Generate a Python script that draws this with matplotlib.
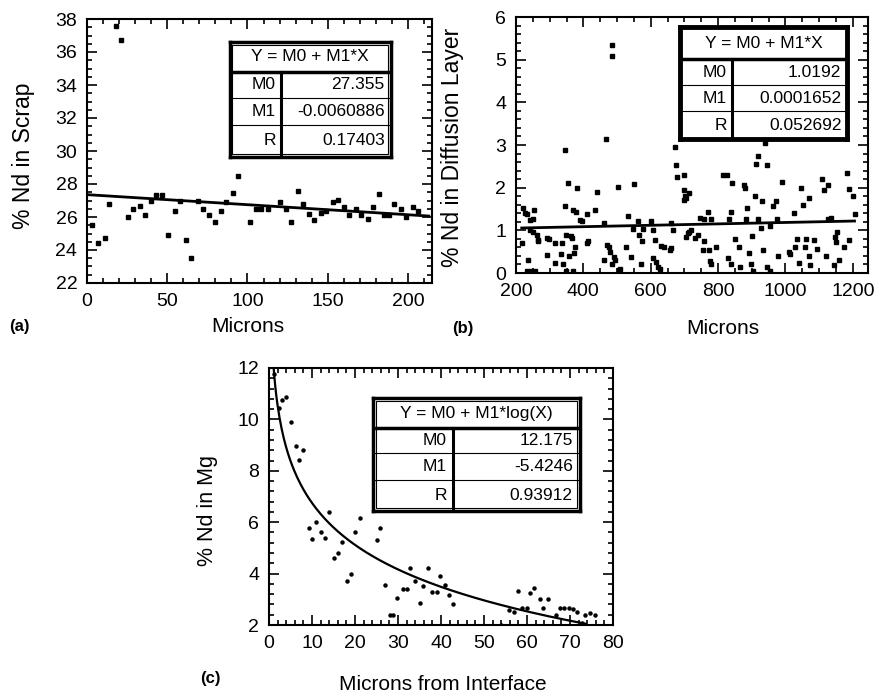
import numpy as np
import matplotlib
matplotlib.use("Agg")
import matplotlib.pyplot as plt
from matplotlib.ticker import MultipleLocator
from matplotlib.patches import Rectangle

plt.rcParams['font.family'] = ['Liberation Sans', 'DejaVu Sans']

# ---- panel (a): % Nd in scrap vs microns
a_x = np.array([3, 6.8, 11, 14, 17.8, 21.4, 25.5, 28.6, 32.8, 35.9, 40, 43.2, 46.9, 50.4,
                54.6, 57.7, 61.8, 65, 69, 72.2, 76.3, 79.5, 83.6, 86.7, 90.9, 94, 101.7,
                105.4, 108.5, 112.7, 120, 124, 127.2, 131.3, 134.4, 138.6, 141.7, 145.9,
                149, 153, 156.2, 160.4, 163.5, 167.6, 170.7, 174.9, 178, 182, 185.3,
                188.4, 191.5, 195.6, 198.8, 202.9, 206])
a_y = np.array([25.5, 24.4, 24.7, 26.8, 37.6, 36.7, 26.0, 26.5, 26.65, 26.15, 26.95, 27.35,
                27.35, 24.9, 26.35, 26.95, 24.6, 23.5, 26.95, 26.5, 26.15, 25.7, 26.35,
                26.9, 27.45, 28.5, 25.7, 26.5, 26.5, 26.5, 26.9, 26.5, 25.7, 27.55, 26.8,
                26.2, 25.8, 26.25, 26.35, 26.9, 27.05, 26.6, 26.1, 26.5, 26.1, 25.9, 26.6,
                27.4, 26.15, 26.15, 26.8, 26.5, 26.0, 26.6, 26.35])
a_m0, a_m1 = 27.355, -0.0060886
a_fit = ["27.355", "-0.0060886", "0.17403"]

# ---- panel (b): % Nd in diffusion layer vs microns
b_pts = [
    (222, 1.52), (227, 1.40), (217, 0.70), (233, 1.39), (236, 0.31), (241, 1.25),
    (233, 0.05), (245, 0.05), (250, 1.26), (254, 1.47), (241, 1.00), (250, 0.95),
    (262, 0.90), (255, 0.05), (264, 0.74), (266, 0.78), (293, 0.82), (293, 0.43),
    (299, 0.80), (315, 0.70), (315, 0.23), (334, 0.44), (336, 0.70), (341, 0.22),
    (344, 1.56), (346, 2.88), (348, 0.90), (348, 0.05), (353, 2.10), (358, 0.40),
    (363, 0.86), (366, 0.83), (370, 1.48), (370, 0.05), (371, 0.47), (375, 0.60),
    (379, 1.44), (382, 2.00), (390, 1.25), (395, 1.22), (410, 1.39), (410, 0.70),
    (414, 0.74), (435, 1.47), (440, 1.89), (460, 1.18), (462, 0.31), (466, 3.13),
    (470, 0.66), (475, 0.60), (480, 0.50), (484, 0.22), (486, 5.34), (486, 5.08),
    (490, 0.38), (494, 0.30), (503, 2.02), (505, 0.08), (508, 0.10), (528, 0.61),
    (533, 1.34), (540, 0.37), (547, 1.03), (551, 2.08), (562, 1.21), (565, 0.90),
    (570, 0.22), (575, 0.76), (578, 1.03), (602, 1.22), (607, 0.35), (607, 1.01),
    (612, 0.78), (617, 0.25), (622, 0.15), (627, 0.10), (630, 0.64), (640, 0.60),
    (656, 0.55), (660, 0.58), (661, 1.18), (666, 1.00), (671, 2.96), (674, 2.53),
    (678, 2.24), (698, 2.30), (700, 1.95), (703, 1.80), (698, 1.70), (705, 1.75),
    (712, 0.94), (713, 1.87), (715, 0.97), (721, 1.00), (706, 0.85), (730, 0.82),
    (739, 0.90), (745, 1.29), (754, 0.55), (757, 0.75), (757, 1.27), (769, 1.44),
    (773, 0.55), (775, 0.27), (780, 1.27), (780, 0.22), (793, 0.62), (816, 2.30),
    (826, 2.30), (828, 0.36), (833, 1.27), (838, 1.44), (838, 0.20), (841, 2.10),
    (849, 0.80), (861, 0.60), (865, 0.14), (876, 2.07), (880, 2.00), (884, 1.27),
    (887, 1.52), (892, 0.47), (897, 0.22), (900, 0.86), (905, 0.05), (910, 1.80),
    (912, 2.56), (917, 2.74), (917, 1.27), (926, 1.06), (929, 1.69), (932, 0.55),
    (940, 3.04), (944, 2.53), (946, 0.15), (953, 1.09), (953, 0.05), (962, 1.56),
    (971, 1.69), (976, 1.27), (978, 0.40), (991, 2.14), (1009, 0.50), (1014, 0.45),
    (1024, 1.41), (1029, 0.62), (1035, 0.80), (1041, 0.24), (1047, 1.99), (1051, 1.60),
    (1059, 0.60), (1061, 0.80), (1069, 1.76), (1071, 0.40), (1074, 0.19), (1086, 0.78),
    (1094, 0.56), (1107, 2.20), (1113, 1.95), (1121, 0.40), (1126, 2.06), (1127, 1.26),
    (1135, 1.30), (1143, 0.19), (1151, 0.72), (1154, 0.97), (1158, 0.31), (1148, 0.85),
    (1173, 0.60), (1183, 2.34), (1190, 1.96), (1190, 0.78), (1200, 1.81), (1205, 1.39),
]
b_x = np.array([p[0] for p in b_pts], dtype=float)
b_y = np.array([p[1] for p in b_pts])
b_m0, b_m1 = 1.0192, 0.0001652
b_fit = ["1.0192", "0.0001652", "0.052692"]

# ---- panel (c): % Nd in Mg vs microns from interface
c_x = np.array([1.2, 2.25, 3.1, 4.0, 5.2, 6.2, 7.0, 8.0, 9.2, 10.1, 10.9, 12.2, 13.1, 14.0,
                15.1, 16.0, 17.0, 18.1, 19.0, 20.0, 21.1, 25.0, 25.9, 26.9, 28.1, 28.9,
                29.8, 31.1, 32.0, 32.8, 34.0, 35.0, 35.9, 37.0, 38.0, 39.0, 39.8, 40.9,
                41.9, 42.9, 54.0, 55.7, 56.9, 57.8, 58.8, 60.0, 60.7, 61.7, 63.1, 63.8,
                64.8, 66.8, 67.7, 68.7, 69.7, 70.7, 71.6, 72.8, 73.6, 74.6, 75.7])
c_y = np.array([11.78, 10.44, 10.77, 10.87, 9.88, 8.95, 8.43, 8.82, 5.77, 5.34, 5.99, 5.61,
                5.38, 6.39, 4.6, 4.79, 5.22, 3.71, 3.97, 5.61, 6.16, 5.29, 5.77, 3.56,
                2.39, 2.39, 3.06, 3.39, 3.39, 4.23, 3.71, 2.87, 3.53, 4.23, 3.3, 3.3,
                3.91, 3.56, 3.17, 2.82, 2.0, 2.58, 2.52, 3.34, 2.65, 2.65, 3.26, 3.43,
                3.0, 2.65, 3.0, 2.39, 2.65, 2.65, 2.65, 2.61, 2.52, 2.09, 2.39, 2.45, 2.39])
c_m0, c_m1 = 12.175, -5.4246
c_fit = ["12.175", "-5.4246", "0.93912"]
row_names = ["M0", "M1", "R"]

W, H = 875, 694
fig = plt.figure(figsize=(W / 100, H / 100), dpi=100)


def px_rect(left, top, right, bottom):
    return [left / W, 1 - bottom / H, (right - left) / W, (bottom - top) / H]


def style_axes(ax, xmaj, xmin, ymaj, ymin, fs=14):
    ax.xaxis.set_major_locator(MultipleLocator(xmaj))
    ax.xaxis.set_minor_locator(MultipleLocator(xmin))
    ax.yaxis.set_major_locator(MultipleLocator(ymaj))
    ax.yaxis.set_minor_locator(MultipleLocator(ymin))
    ax.tick_params(which='both', direction='in', top=True, right=True, width=1.2)
    ax.tick_params(which='major', length=7, labelsize=fs, pad=7)
    ax.tick_params(which='minor', length=3.5)
    for s in ax.spines.values():
        s.set_linewidth(1.5)


def add_table(rect, title, values, title_frac, row_fracs, col_frac, double=True, lw=2.5):
    t = fig.add_axes(rect)
    t.set_xlim(0, 1)
    t.set_ylim(0, 1)
    t.set_xticks([])
    t.set_yticks([])
    for s in t.spines.values():
        s.set_linewidth(lw)
    if double:
        t.add_patch(Rectangle((0.015, 0.025), 0.97, 0.95, fill=False, lw=0.8, color='k'))
    t.axhline(title_frac, color='k', lw=2.5)
    for r in row_fracs:
        t.axhline(r, color='k', lw=0.8)
    t.plot([col_frac, col_frac], [0, title_frac], color='k', lw=2.2)
    t.text(0.5, (1 + title_frac) / 2, title, ha='center', va='center', fontsize=12.5)
    bounds = [title_frac] + list(row_fracs) + [0]
    for i in range(3):
        yc = (bounds[i] + bounds[i + 1]) / 2
        t.text(col_frac - 0.03, yc, row_names[i], ha='right', va='center', fontsize=12.5)
        t.text(0.965, yc, values[i], ha='right', va='center', fontsize=12.5)


# (a)
ax = fig.add_axes(px_rect(87, 19, 432, 283))
ax.plot(a_x, a_y, 's', color='k', ms=3.2)
xa = np.array([0, 213])
ax.plot(xa, a_m0 + a_m1 * xa, color='k', lw=2)
ax.set_xlim(0, 215)
ax.set_ylim(22, 38)
style_axes(ax, 50, 10, 2, 0.5)
fig.text(24 / W, 1 - 156 / H, "% Nd in Scrap", rotation=90, ha='center', va='center', fontsize=16.5)
fig.text(248 / W, 1 - 326 / H, "Microns", ha='center', va='center', fontsize=15)
fig.text(19 / W, 1 - 326 / H, "(a)", ha='center', va='center', fontsize=12, fontweight='bold')
add_table(px_rect(229.5, 41.7, 390.5, 156.7), "Y = M0 + M1*X", a_fit, 0.739, [0.508, 0.276], 0.317)

# (b)
ax = fig.add_axes(px_rect(516, 17, 868, 273))
ax.plot(b_x, b_y, 's', color='k', ms=3.2)
xb = np.array([b_x.min(), b_x.max()])
ax.plot(xb, b_m0 + b_m1 * xb, color='k', lw=2)
ax.set_xlim(200, 1245)
ax.set_ylim(0, 6)
style_axes(ax, 200, 50, 1, 0.2)
fig.text(452 / W, 1 - 147 / H, "% Nd in Diffusion Layer", rotation=90, ha='center', va='center', fontsize=16.5)
fig.text(723 / W, 1 - 329 / H, "Microns", ha='center', va='center', fontsize=15)
fig.text(463 / W, 1 - 328 / H, "(b)", ha='center', va='center', fontsize=12, fontweight='bold')
add_table(px_rect(680, 26.7, 847.3, 139.3), "Y = M0 + M1*X", b_fit, 0.710, [0.482, 0.251], 0.309,
          double=False, lw=3.5)

# (c)
ax = fig.add_axes(px_rect(269, 368, 613, 625))
ax.plot(c_x, c_y, 'o', color='k', ms=2.2)
xc = np.linspace(1, 73.6, 300)
ax.plot(xc, c_m0 + c_m1 * np.log10(xc), color='k', lw=1.6)
ax.set_xlim(0, 80)
ax.set_ylim(2, 12)
style_axes(ax, 10, 2, 2, 0.4)
fig.text(207 / W, 1 - 510 / H, "% Nd in Mg", rotation=90, ha='center', va='center', fontsize=15.5)
fig.text(443 / W, 1 - 684 / H, "Microns from Interface", ha='center', va='center', fontsize=15)
fig.text(210 / W, 1 - 678 / H, "(c)", ha='center', va='center', fontsize=12, fontweight='bold')
add_table(px_rect(372.7, 397.7, 580, 510.7), "Y = M0 + M1*log(X)", c_fit, 0.729, [0.508, 0.272], 0.389)

fig.savefig("out.png", dpi=100)
